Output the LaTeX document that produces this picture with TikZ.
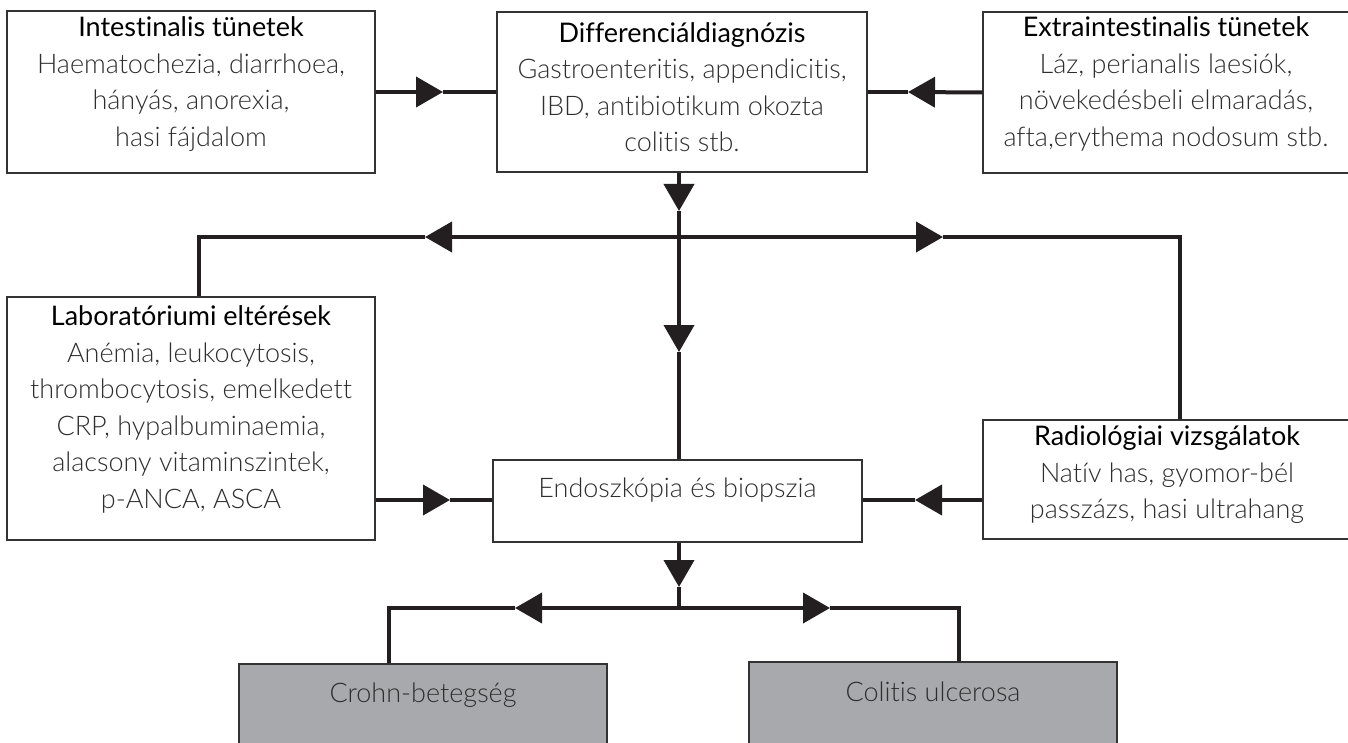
\documentclass[tikz,border=0pt]{standalone}
\usepackage{fontspec}
\setmainfont{Lato Light}[Ligatures={NoCommon}]
\newfontfamily\titlefont{Lato}[Ligatures={NoCommon}]
\usetikzlibrary{arrows.meta}
\definecolor{lc}{HTML}{231F20}
\definecolor{bordc}{HTML}{333333}
\definecolor{bodyc}{HTML}{2E2E2E}
\definecolor{grayfill}{HTML}{A8A9AD}
\newcommand{\ttl}[1]{{\titlefont\color{black}#1}}
\begin{document}
\begin{tikzpicture}[x=1pt,y=-1pt,
  box/.style={draw=bordc, line width=1.5pt, fill=white, inner sep=0pt},
  gbox/.style={box, fill=grayfill},
  txt/.style={align=center, inner sep=0pt, text=bodyc, font=\fontsize{27}{36.5}\selectfont},
  conn/.style={draw=lc, line width=4pt},
  arr/.style={conn, -{Triangle[length=27pt,width=30pt]}}]
\useasboundingbox (0,0) rectangle (1348,743);
\clip (0,0) rectangle (1348,743);
\fill[white] (0,0) rectangle (1348,743);
% boxes
\node[box, minimum width=368pt, minimum height=162pt] (b1) at (191,92) {};
\node[box, minimum width=370pt, minimum height=160pt] (b2) at (682,92) {};
\node[box, minimum width=367pt, minimum height=161pt] (b3) at (1166.5,92.5) {};
\node[box, minimum width=368pt, minimum height=243pt] (lab) at (191,418.5) {};
\node[box, minimum width=369pt, minimum height=82pt] (endo) at (677.5,501) {};
\node[box, minimum width=368pt, minimum height=119pt] (rad) at (1167,479.5) {};
\node[gbox, minimum width=368pt, minimum height=120pt] (crohn) at (423,724) {};
\node[gbox, minimum width=368pt, minimum height=120pt] (cu) at (933,722) {};
% texts
\node[txt] (t1) at (191,84) {\ttl{Intestinalis tünetek}\\Haematochezia, diarrhoea,\\hányás, anorexia,\\hasi fájdalom};
\node[txt] (t2) at (682,87) {\ttl{Differenciáldiagnózis}\\Gastroenteritis, appendicitis,\\IBD, antibiotikum okozta\\colitis stb.};
\node[txt] (t3) at (1166,84) {\ttl{Extraintestinalis tünetek}\\Láz, perianalis laesiók,\\növekedésbeli elmaradás,\\afta,erythema nodosum stb.};
\node[txt] (t4) at (191,409.5) {\ttl{Laboratóriumi eltérések}\\Anémia, leukocytosis,\\thrombocytosis, emelkedett\\CRP, hypalbuminaemia,\\alacsony vitaminszintek,\\p-ANCA, ASCA};
\node[txt] (t5) at (1167,475) {\ttl{Radiológiai vizsgálatok}\\Natív has, gyomor-bél\\passzázs, hasi ultrahang};
\node[txt] (t6) at (677.5,490) {Endoszkópia és biopszia};
\node[txt] (t7) at (423,695) {Crohn-betegség};
\node[txt] (t8) at (933,692) {Colitis ulcerosa};
% coordinates
\coordinate (tA) at (443,92);
\coordinate (tB) at (908,92);
\coordinate (jT) at (679,237);
\coordinate (tD) at (679,211);
\coordinate (cL) at (199,237);
\coordinate (tL) at (425,237);
\coordinate (cR) at (1180,237);
\coordinate (tR) at (943,237);
\coordinate (tC) at (679,352);
\coordinate (tE) at (450,500);
\coordinate (tF) at (915,500);
\coordinate (jB) at (679,608);
\coordinate (tG) at (679,587);
\coordinate (dL) at (389,608);
\coordinate (tH) at (515,608);
\coordinate (dR) at (959,608);
\coordinate (tI) at (830,608);
% connectors
\draw[arr] (b1.east) -- (tA);
\draw[conn] (tA) -- (b2.west);
\draw[arr] (b3.west) -- (tB);
\draw[conn] (tB) -- (b2.east);
\draw[arr] (jT |- b2.south) -- (tD);
\draw[conn] (tD) -- (jT);
\draw[arr] (jT) -- (tL);
\draw[conn] (tL) -- (cL) -- (cL |- lab.north);
\draw[arr] (jT) -- (tR);
\draw[conn] (tR) -- (cR) -- (cR |- rad.north);
\draw[arr] (jT) -- (tC);
\draw[conn] (tC) -- (jT |- endo.north);
\draw[arr] (tE -| lab.east) -- (tE);
\draw[conn] (tE) -- (tE -| endo.west);
\draw[arr] (tF -| rad.west) -- (tF);
\draw[conn] (tF) -- (tF -| endo.east);
\draw[arr] (jB |- endo.south) -- (tG);
\draw[conn] (tG) -- (jB);
\draw[arr] (jB) -- (tH);
\draw[conn] (tH) -- (dL) -- (dL |- crohn.north);
\draw[arr] (jB) -- (tI);
\draw[conn] (tI) -- (dR) -- (dR |- cu.north);
\end{tikzpicture}
\end{document}
